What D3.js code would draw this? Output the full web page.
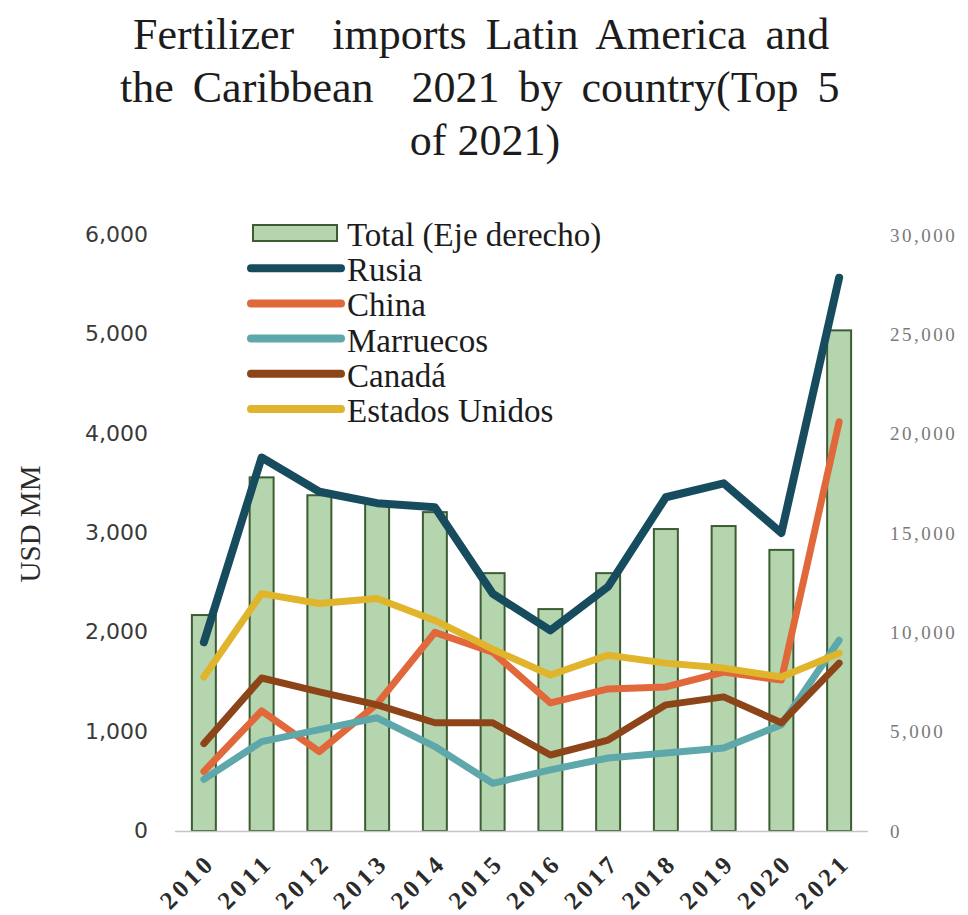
<!DOCTYPE html>
<html>
<head>
<meta charset="utf-8">
<script src="https://cdn.jsdelivr.net/npm/d3@7"></script>
<style>
  html, body { margin: 0; padding: 0; background: #ffffff; }
  svg { display: block; }
</style>
</head>
<body>
<svg id="chart" width="968" height="915"></svg>
<script>
// ---- data ----
const years = ["2010","2011","2012","2013","2014","2015","2016","2017","2018","2019","2020","2021"];
const total = [10870, 17800, 16900, 16500, 16050, 12980, 11170, 12980, 15200, 15350, 14150, 25200];
const rusia = [1900, 3760, 3415, 3300, 3260, 2390, 2020, 2460, 3360, 3500, 3000, 5570];
const china = [600, 1210, 800, 1280, 2000, 1800, 1290, 1430, 1450, 1600, 1520, 4120];
const marruecos = [520, 900, 1020, 1140, 850, 480, 615, 735, 785, 835, 1070, 1920];
const canada = [880, 1540, 1400, 1270, 1090, 1090, 765, 915, 1270, 1350, 1090, 1690];
const estadosUnidos = [1550, 2390, 2290, 2340, 2120, 1830, 1570, 1770, 1690, 1640, 1550, 1790];
const leftTicks = [0, 1000, 2000, 3000, 4000, 5000, 6000];
const rightTicks = [0, 5000, 10000, 15000, 20000, 25000, 30000];
const titleLines = ["Fertilizer  imports Latin America and", "the Caribbean  2021 by country(Top 5", "of 2021)"];
const barLabel = "Total (Eje derecho)";
const lineSeries = [
  {name: "Rusia", values: rusia, color: "#174b5e"},
  {name: "China", values: china, color: "#e0683a"},
  {name: "Marruecos", values: marruecos, color: "#5ea7ab"},
  {name: "Canadá", values: canada, color: "#8d4418"},
  {name: "Estados Unidos", values: estadosUnidos, color: "#e0b52c"}
];

// ---- layout ----
const svg = d3.select("#chart");
const plotLeft = 175, plotRight = 868, plotTop = 235, plotBottom = 831;

const x = d3.scaleBand().domain(years).range([plotLeft, plotRight]).paddingInner(0.585).paddingOuter(0.2925);
const yL = d3.scaleLinear().domain([0, 6000]).range([plotBottom, plotTop]);
const yR = d3.scaleLinear().domain([0, 30000]).range([plotBottom, plotTop]);

// title
const titleX = [133, 120, null];
const titleY = [49, 102, 155];
titleLines.forEach((t, i) => {
  const el = svg.append("text")
    .attr("y", titleY[i])
    .attr("font-family", "'Liberation Serif', 'Times New Roman', serif")
    .attr("font-size", 44)
    .attr("fill", "#1c1c1c")
    .style("white-space", "pre")
    .text(t);
  if (titleX[i] !== null) {
    el.attr("x", titleX[i]).style("word-spacing", "8px");
  } else {
    el.attr("x", 485).attr("text-anchor", "middle");
  }
});

// bars
svg.append("g").selectAll("rect")
  .data(years.map((yr, i) => ({yr, v: total[i]})))
  .join("rect")
  .attr("x", d => x(d.yr))
  .attr("width", x.bandwidth())
  .attr("y", d => yR(d.v))
  .attr("height", d => plotBottom - yR(d.v))
  .attr("fill", "#b4d5ae")
  .attr("stroke", "#3d5c33")
  .attr("stroke-width", 2);

// baseline
svg.append("line")
  .attr("x1", plotLeft).attr("x2", plotRight)
  .attr("y1", plotBottom + 0.5).attr("y2", plotBottom + 0.5)
  .attr("stroke", "#c4c4c4").attr("stroke-width", 1.5);

// lines
const line = d3.line()
  .x((d, i) => x(years[i]) + x.bandwidth() / 2)
  .y(d => yL(d))
  .curve(d3.curveLinear);

svg.append("g").selectAll("path")
  .data(lineSeries)
  .join("path")
  .attr("d", d => line(d.values))
  .attr("fill", "none")
  .attr("stroke", d => d.color)
  .attr("stroke-width", d => d.name === "Rusia" ? 8 : 7)
  .attr("stroke-linejoin", "round")
  .attr("stroke-linecap", "round");

// left axis
const leftAxis = d3.axisLeft(yL).tickValues(leftTicks).tickSize(0).tickPadding(0)
  .tickFormat(d3.format(","));
const gL = svg.append("g").attr("transform", "translate(148,0)").call(leftAxis);
gL.select(".domain").remove();
gL.selectAll("text")
  .attr("font-family", "'DejaVu Sans', sans-serif")
  .attr("font-size", 22)
  .attr("fill", "#3a3a3a")
  .attr("dy", "0.3em");

// right axis
const rightAxis = d3.axisRight(yR).tickValues(rightTicks).tickSize(0).tickPadding(0)
  .tickFormat(d3.format(","));
const gR = svg.append("g").attr("transform", "translate(890,0)").call(rightAxis);
gR.select(".domain").remove();
gR.selectAll("text")
  .attr("font-family", "'Liberation Serif', serif")
  .attr("font-size", 19)
  .attr("letter-spacing", 2.5)
  .attr("fill", "#7a7a7a")
  .attr("dy", "0.32em");

// x axis labels
const xAxis = d3.axisBottom(x).tickSize(0).tickPadding(0);
const gX = svg.append("g").attr("transform", `translate(0,${plotBottom})`).call(xAxis);
gX.select(".domain").remove();
gX.selectAll("text")
  .attr("font-family", "'Liberation Serif', serif")
  .attr("font-weight", "bold")
  .attr("font-size", 25)
  .attr("fill", "#2b2b2b")
  .attr("text-anchor", "end")
  .attr("textLength", 62)
  .attr("lengthAdjust", "spacing")
  .attr("dy", 0)
  .attr("y", 0)
  .attr("transform", "translate(10,36) rotate(-45)");

// y axis title
svg.append("text")
  .attr("transform", "translate(40,524) rotate(-90)")
  .attr("text-anchor", "middle")
  .attr("font-family", "'Liberation Serif', serif")
  .attr("font-size", 29)
  .attr("fill", "#2b2b2b")
  .text("USD MM");

// legend
const legendRows = [{name: barLabel, type: "bar"}].concat(lineSeries.map(s => ({name: s.name, type: "line", color: s.color})));
const legY = d3.scalePoint().domain(legendRows.map(d => d.name)).range([233, 409]);
const leg = svg.append("g");
legendRows.forEach(r => {
  const cy = legY(r.name);
  if (r.type === "bar") {
    leg.append("rect").attr("x", 253).attr("y", cy - 8).attr("width", 84).attr("height", 16)
      .attr("fill", "#b4d5ae").attr("stroke", "#3d5c33").attr("stroke-width", 2);
  } else {
    leg.append("line").attr("x1", 251).attr("x2", 341).attr("y1", cy).attr("y2", cy)
      .attr("stroke", r.color).attr("stroke-width", 8).attr("stroke-linecap", "round");
  }
  leg.append("text").attr("x", 347).attr("y", cy + 13)
    .attr("font-family", "'Liberation Serif', serif")
    .attr("font-size", 33)
    .attr("fill", "#1c1c1c")
    .text(r.name);
});
</script>
</body>
</html>
